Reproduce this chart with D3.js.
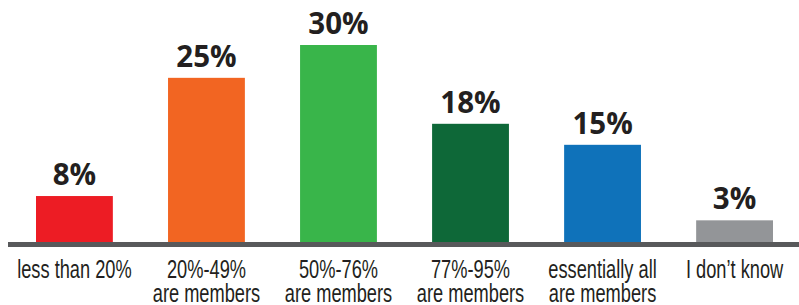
<!DOCTYPE html>
<html>
<head>
<meta charset="utf-8">
<script src="https://cdn.jsdelivr.net/npm/d3@7"></script>
<style>
  html, body { margin: 0; padding: 0; background: #fff; }
  svg { display: block; }
</style>
</head>
<body>
<svg id="chart" width="799" height="305"></svg>
<script>
// ---- data ----
const categories = ["less than 20%", "20%-49% are members", "50%-76% are members", "77%-95% are members", "essentially all are members", "I don\u2019t know"];
const categoryLines = [["less than 20%"], ["20%-49%", "are members"], ["50%-76%", "are members"], ["77%-95%", "are members"], ["essentially all", "are members"], ["I don\u2019t know"]];
const values = [7.0, 25, 30, 18, 14.8, 3.3];
const valueLabels = ["8%", "25%", "30%", "18%", "15%", "3%"];
const colors = ["#ed1c24", "#f26522", "#39b54a", "#0e6838", "#0f72ba", "#939598"];

// ---- chart ----
const svg = d3.select("#chart");
const baseY = 242;

const x = d3.scaleBand().domain(categories).range([36, 773]).paddingInner(0.418).paddingOuter(0);
const y = d3.scaleLinear().domain([0, 30]).range([baseY, 45]);

svg.selectAll("rect.bar")
  .data(categories)
  .join("rect")
  .attr("class", "bar")
  .attr("x", d => x(d))
  .attr("width", x.bandwidth())
  .attr("y", (d, i) => y(values[i]))
  .attr("height", (d, i) => baseY - y(values[i]))
  .attr("fill", (d, i) => colors[i]);

// baseline
svg.append("line")
  .attr("x1", 8).attr("x2", 799)
  .attr("y1", baseY + 2.5).attr("y2", baseY + 2.5)
  .attr("stroke", "#58595b").attr("stroke-width", 5);

// value labels
svg.selectAll("text.val")
  .data(categories)
  .join("text")
  .attr("class", "val")
  .attr("x", d => x(d) + x.bandwidth() / 2)
  .attr("y", (d, i) => y(values[i]) - 11)
  .attr("text-anchor", "middle")
  .attr("font-family", "'Open Sans', 'Liberation Sans', sans-serif")
  .attr("font-weight", 700)
  .attr("font-size", 29.5)
  .attr("fill", "#231f20")
  .text((d, i) => valueLabels[i]);

// category labels (condensed via horizontal scale)
const cat = svg.selectAll("text.cat")
  .data(categories)
  .join("text")
  .attr("class", "cat")
  .attr("transform", d => `translate(${x(d) + x.bandwidth() / 2},277.5) scale(0.73,1)`)
  .attr("text-anchor", "middle")
  .attr("font-family", "'Liberation Sans', Arial, sans-serif")
  .attr("font-size", 25)
  .attr("fill", "#231f20");

cat.each(function(d, i) {
  const t = d3.select(this);
  categoryLines[i].forEach((line, j) => {
    t.append("tspan")
      .attr("x", 0)
      .attr("dy", j === 0 ? 0 : 25)
      .text(line);
  });
});
</script>
</body>
</html>
